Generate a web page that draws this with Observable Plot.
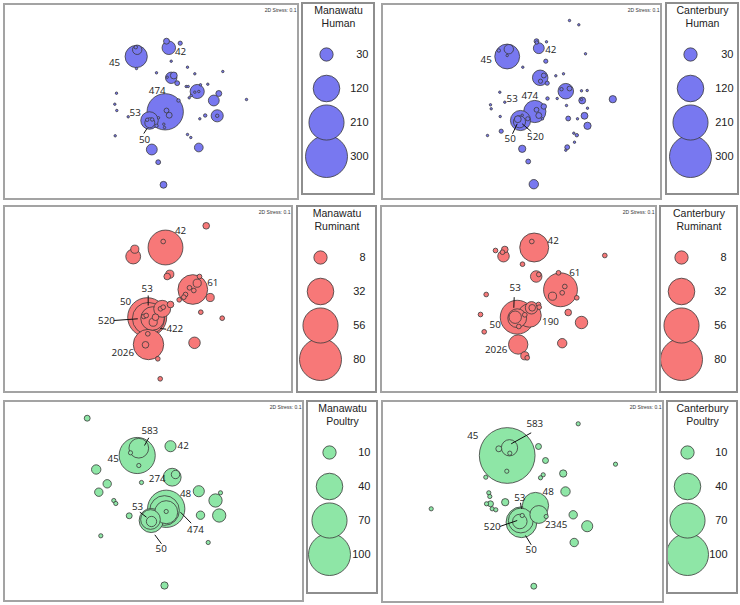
<!DOCTYPE html>
<html><head><meta charset="utf-8">
<script src="https://cdn.jsdelivr.net/npm/d3@7"></script>
<script src="https://cdn.jsdelivr.net/npm/@observablehq/plot@0.6"></script>
<style>
html,body{margin:0;padding:0;background:#fff;}
#root{position:relative;width:740px;height:605px;background:#fff;overflow:hidden;}
.box{position:absolute;box-sizing:border-box;pointer-events:none;}
.holder{position:absolute;}
.holder svg{overflow:visible;display:block;}
</style></head>
<body><div id="root"></div>
<script>
// ---- DATA: MDS ordination coordinates [dim1, dim2, isolate count] ----
const manawatuHuman = [
 [135.7,56,84],[136.7,49.3,15],[135.3,46.7,2],[136,68,1],[168.3,47.3,31],[166,40.7,6],[179.7,42.7,3],
 [170.7,60.7,1],[156,72.3,1],[187,66.7,1],[194.3,73.3,1],[222.3,71,1],[170.7,77.3,22],[173.3,75,8],
 [176.7,82.7,4],[166.7,76.7,1],[196.7,91,34],[194.3,91.7,1],[198.3,91,1],[218.3,93,6],[213.3,100,20],
 [216.7,115.3,25],[216.7,115.3,2],[246,99,1],[185.7,86,1],[187.7,86,1],[200,84.3,1],[207.3,83.7,1],
 [188.7,97.3,1],[190.7,95,1],[164.7,111.3,224],[166,110,4],[168.7,114.7,6],[178,100,2],[158,117.3,1],
 [163.3,123.7,1],[164,127,1],[149,120,52],[149.3,122.3,17],[146.7,119.3,2],[151.7,119,2],[156,125.3,2],
 [116,92.7,1],[114.3,103.7,1],[116.3,110,1],[127.7,116.3,1],[114.7,135.3,1],[204.7,115,2],[199.3,118.3,1],
 [187,134,1],[190.3,137,1],[151.3,149,20],[198.3,147,13],[157.7,161.7,4],[163,184.3,8]
];
const canterburyHuman = [
 [506.7,56,105],[508.3,48.7,15],[498.3,50,2],[506.7,55,1],[538.3,47.7,20],[536,40.7,4],[536.3,42,2],
 [546,41.3,1],[569,20,1],[578.3,24.3,1],[585,53.3,1],[545.3,60.7,3],[522.3,66.7,1],[539.7,77.3,41],
 [543.3,75,4],[540,80.7,3],[546.7,82.7,3],[555.3,75.3,1],[563,73.3,1],[565.3,90.7,41],[569,88,4],
 [561,88.7,2],[581,90.3,1],[586.7,90,1],[547,98,2],[556.7,98,1],[581.7,100,8],[581,99,1],[612.3,98.7,9],
 [566,105,1],[587,107.7,1],[584,115.3,8],[577,118.3,1],[567.7,118,4],[587,125.3,9],[573.3,132.7,1],
 [576.3,134.7,2],[574,141.7,1],[566.7,146.7,4],[565.3,149.7,1],[534.3,111,84],[536,109.3,4],[538.3,115,6],
 [543.3,106,5],[542,118.3,1],[520,120,69],[519,121.3,25],[517.3,118.7,8],[527.3,118.3,3],[521.7,114.7,1],
 [499.3,91.7,1],[504.3,101.7,1],[490,104.3,1],[490.7,108.3,1],[499.7,116,1],[500.7,130.7,3],[487,135,1],
 [521.7,148.3,9],[527.7,161,4],[533.3,183.7,15]
];
const manawatuRuminant = [
 [165,247,55],[162.7,241,1],[205.7,225.3,2],[132.7,256,10],[134.3,248.7,3],[169.3,273.7,3],[166.7,276,2],
 [192.3,289,40],[196.7,282.7,3],[199,276,1],[189,287.3,1],[193.3,290,1],[185,294,1],[183.3,296.7,1],
 [178.7,299.3,1],[209.7,297,3],[200.3,311.7,1],[221.7,317.7,1],[146.7,316.7,69],[148,318,47],[152,318,25],
 [161.7,308.3,13],[160,308.3,1],[162.7,306.7,1],[170,304,2],[143.3,316,1],[145.7,315,1],[155,316.7,2],
 [152.7,321.7,3],[147.3,333.3,1],[148,344,42],[145,344.3,2],[157.3,358.3,1],[194,342.3,6],[159.7,378.3,1]
];
const canterburyRuminant = [
 [533.7,247,38],[531.3,241,1],[604.3,255,1],[503,255.7,6],[504.3,249,2],[495,250,1],[502,251.7,1],
 [522,263.7,1],[535.7,276,6],[538.3,274,1],[560,289.3,52],[558,272.3,1],[564.3,286,1],[561.7,292.3,1],
 [552,295.7,3],[576.3,297.3,1],[485.7,294,1],[480,314,1],[483.7,331.3,1],[567.7,312,2],[581,322,7],
 [561.7,342.7,4],[516.7,316.7,52],[529,315,25],[516.7,317.7,16],[514.7,316.7,7],[531,307.3,7],
 [531.7,307.3,2],[538,304,1],[538.7,306.7,1],[524.3,314.3,1],[518.3,326,1],[517.7,344,17],
 [524.3,355.3,3],[526.7,357.3,1]
];
const manawatuPoultry = [
 [86.7,417.7,2],[136.7,455,74],[138.3,447.7,22],[130,452.3,1],[138.3,465,1],[170,445.7,7],[95.7,469,5],
 [171.7,476.7,18],[175,474,4],[141,482,1],[106.7,483.3,4],[98.3,491.7,4],[198.3,490.7,7],[113.3,500,1],
 [115.3,503,1],[215,500,10],[220,492.3,1],[128.7,515.3,2],[200,514.7,4],[218.7,515,10],[100.3,535.3,1],
 [207.7,542,1],[164,585,3],[165.7,508.3,79],[164,510,50],[165.7,511.7,30],[165.7,511,1],[150.7,520,33],
 [150,519,22],[151,521,6]
];
const canterburyPoultry = [
 [506.7,455,176],[509,447.3,15],[498.3,448.3,2],[509.3,452.7,1],[506.3,470.7,1],[485.3,476.7,1],
 [577.7,423.3,1],[615,463.7,1],[538,446,2],[545,460,2],[562.7,473,3],[542.7,474.3,1],[540,477.3,1],
 [565,491,5],[430.7,508.3,1],[488.3,492.3,1],[489.3,496,1],[490,503.3,2],[486,503.3,1],[491.7,508.3,1],
 [495.3,509.3,1],[504.7,501.7,3],[535,505,39],[538.3,514,18],[545.7,516,1],[521,521.7,54],[520.3,520,35],
 [519.3,521,12],[521.7,515,1],[572.7,514.3,4],[586.7,525.7,7],[573.7,542,4],[533.3,585.7,2]
];

// ST labels [text, dim1, dim2] and leader lines [x1, y1, x2, y2]
const labelsMH = [["45",114,62],["42",180,51.7],["474",156.7,90.7],["53",134.7,112.7],["50",144,139.3]];
const linesMH = [[143.3,133,146.7,127.7]];
const labelsCH = [["45",485.7,59],["42",550.3,49.3],["474",529.3,95],["53",511.7,98],["50",509.7,138.7],["520",535,136.7]];
const linesCH = [[512,133.3,516.7,123.3],[530.7,131,521.7,123.3]];
const labelsMR = [["42",180,230],["61",212.3,282],["53",146.7,288.7],["50",125,301.7],["520",106,320.3],["422",174.3,328.3],["2026",122.3,352.3]];
const linesMR = [[147.7,295,147.7,305],[113.3,320,137.3,318.3],[159.7,328,165.7,328.7]];
const labelsCR = [["42",552.7,240.7],["61",574.3,272],["53",514.7,287.3],["50",494.7,324],["190",550,321.7],["2026",495.7,349]];
const linesCR = [[513.7,296.7,513.3,307.3]];
const labelsMP = [["583",149.3,430.7],["45",112.7,458.3],["42",182.7,445.7],["274",156.7,478.7],["48",185,493.7],["53",137,506],["474",195,529.3],["50",160.7,548.3]];
const linesMP = [[148.3,437.3,144,445],[190.7,522.7,180,511.7],[139.3,511.7,146,516.7],[161,543.3,154.3,534.3]];
const labelsCP = [["45",472.3,435.7],["583",534.3,423.3],["48",547.7,491.7],["53",519.3,497.3],["520",491.7,526],["2345",555.7,524.3],["50",530.7,549]];
const linesCP = [[530.7,432.3,510.7,443.3],[520,502.3,521,508.3],[499.3,526,516.7,520],[530.7,544.3,525,535]];

// legend tick values and titles
const humanTicks = [30,120,210,300];
const ruminantTicks = [8,32,56,80];
const poultryTicks = [10,40,70,100];
const stressText = "2D Stress: 0.1";

// ---- LAYOUT ----
const colors = {human:"#7878f0", ruminant:"#f77878", poultry:"#8ee6a6"};
const panels = [
 {data:manawatuHuman, labels:labelsMH, lines:linesMH, frame:[3,3,299,200], leg:[301,2,375,195], cx:25, rm:7, title:"Manawatu\nHuman", ticks:humanTicks, color:colors.human},
 {data:canterburyHuman, labels:labelsCH, lines:linesCH, frame:[381,3,662,200], leg:[665,2,739,195], cx:25, rm:6, title:"Canterbury\nHuman", ticks:humanTicks, color:colors.human},
 {data:manawatuRuminant, labels:labelsMR, lines:linesMR, frame:[3,205,293,393], leg:[296,205,377,393], cx:24, rm:12, title:"Manawatu\nRuminant", ticks:ruminantTicks, color:colors.ruminant},
 {data:canterburyRuminant, labels:labelsCR, lines:linesCR, frame:[380,205,657,393], leg:[659,205,738,393], cx:22, rm:12, title:"Canterbury\nRuminant", ticks:ruminantTicks, color:colors.ruminant},
 {data:manawatuPoultry, labels:labelsMP, lines:linesMP, frame:[3,400,304,602], leg:[306,400,378,594], cx:23, rm:8, title:"Manawatu\nPoultry", ticks:poultryTicks, color:colors.poultry},
 {data:canterburyPoultry, labels:labelsCP, lines:linesCP, frame:[381,400,664,603], leg:[666,400,738,594], cx:21, rm:11, title:"Canterbury\nPoultry", ticks:poultryTicks, color:colors.poultry}
];
const RMAX = 21;
const root = document.getElementById("root");

function place(node, l, t, w, h, border) {
  const holder = document.createElement("div");
  holder.className = "holder";
  holder.style.cssText = `left:${l}px;top:${t}px;width:${w}px;height:${h}px;`;
  holder.appendChild(node);
  root.appendChild(holder);
  const box = document.createElement("div");
  box.className = "box";
  box.style.cssText = `left:${l}px;top:${t}px;width:${w}px;height:${h}px;border:${border};`;
  root.appendChild(box);
}

for (const p of panels) {
  const [l,t,r,b] = p.frame;
  const w = r - l, h = b - t;
  const rMaxDomain = p.ticks[p.ticks.length-1];
  const sorted = d3.sort(p.data, d => -d[2]);
  const chart = Plot.plot({
    width: w, height: h, margin: 0,
    style: {background:"transparent", overflow:"visible"},
    x: {domain:[l,r], range:[0,w], axis:null},
    y: {domain:[t,b], range:[0,h], axis:null},
    r: {domain:[0,rMaxDomain], range:[0,RMAX]},
    marks: [
      Plot.dot(sorted, {x:d=>d[0], y:d=>d[1], r:d=>d[2], fill:p.color, stroke:"#3a3a3a", strokeWidth:0.8, sort:null}),
      Plot.link(p.lines, {x1:d=>d[0], y1:d=>d[1], x2:d=>d[2], y2:d=>d[3], stroke:"#111", strokeWidth:1}),
      Plot.text(p.labels, {x:d=>d[1], y:d=>d[2], text:d=>d[0], fontSize:9.8, fill:"#222", fontFamily:"'Open Sans', sans-serif"}),
      Plot.text([stressText], {frameAnchor:"top-right", dx:-3, dy:5, fontSize:5, fill:"#333", fontFamily:"'Liberation Sans', Arial, sans-serif"})
    ]
  });
  place(chart, l, t, w, h, "2px solid #a3a3a3");

  const [ll,lt,lr,lb] = p.leg;
  const lw = lr - ll, lh = lb - lt;
  const legend = Plot.plot({
    width: lw, height: lh, margin: 0,
    style: {background:"transparent", overflow:"visible"},
    y: {type:"point", domain:p.ticks, range:[34,171], axis:null},
    r: {domain:[0,rMaxDomain], range:[0,RMAX]},
    marks: [
      Plot.text([p.title], {frameAnchor:"top", lineAnchor:"top", dy:3, fontSize:10.5, lineHeight:1.17, fill:"#222", fontFamily:"'Liberation Sans', Arial, sans-serif"}),
      Plot.dot(p.ticks, {y:d=>d, r:d=>d, frameAnchor:"left", dx:p.cx, fill:p.color, stroke:"#3a3a3a", strokeWidth:0.8}),
      Plot.text(p.ticks, {y:d=>d, text:d=>String(d), frameAnchor:"right", dx:-p.rm, textAnchor:"end", fontSize:11, fill:"#222", fontFamily:"'Liberation Sans', Arial, sans-serif"})
    ]
  });
  place(legend, ll, lt, lw, lh, "2px solid #8e8e8e");
}
</script>
</body></html>
